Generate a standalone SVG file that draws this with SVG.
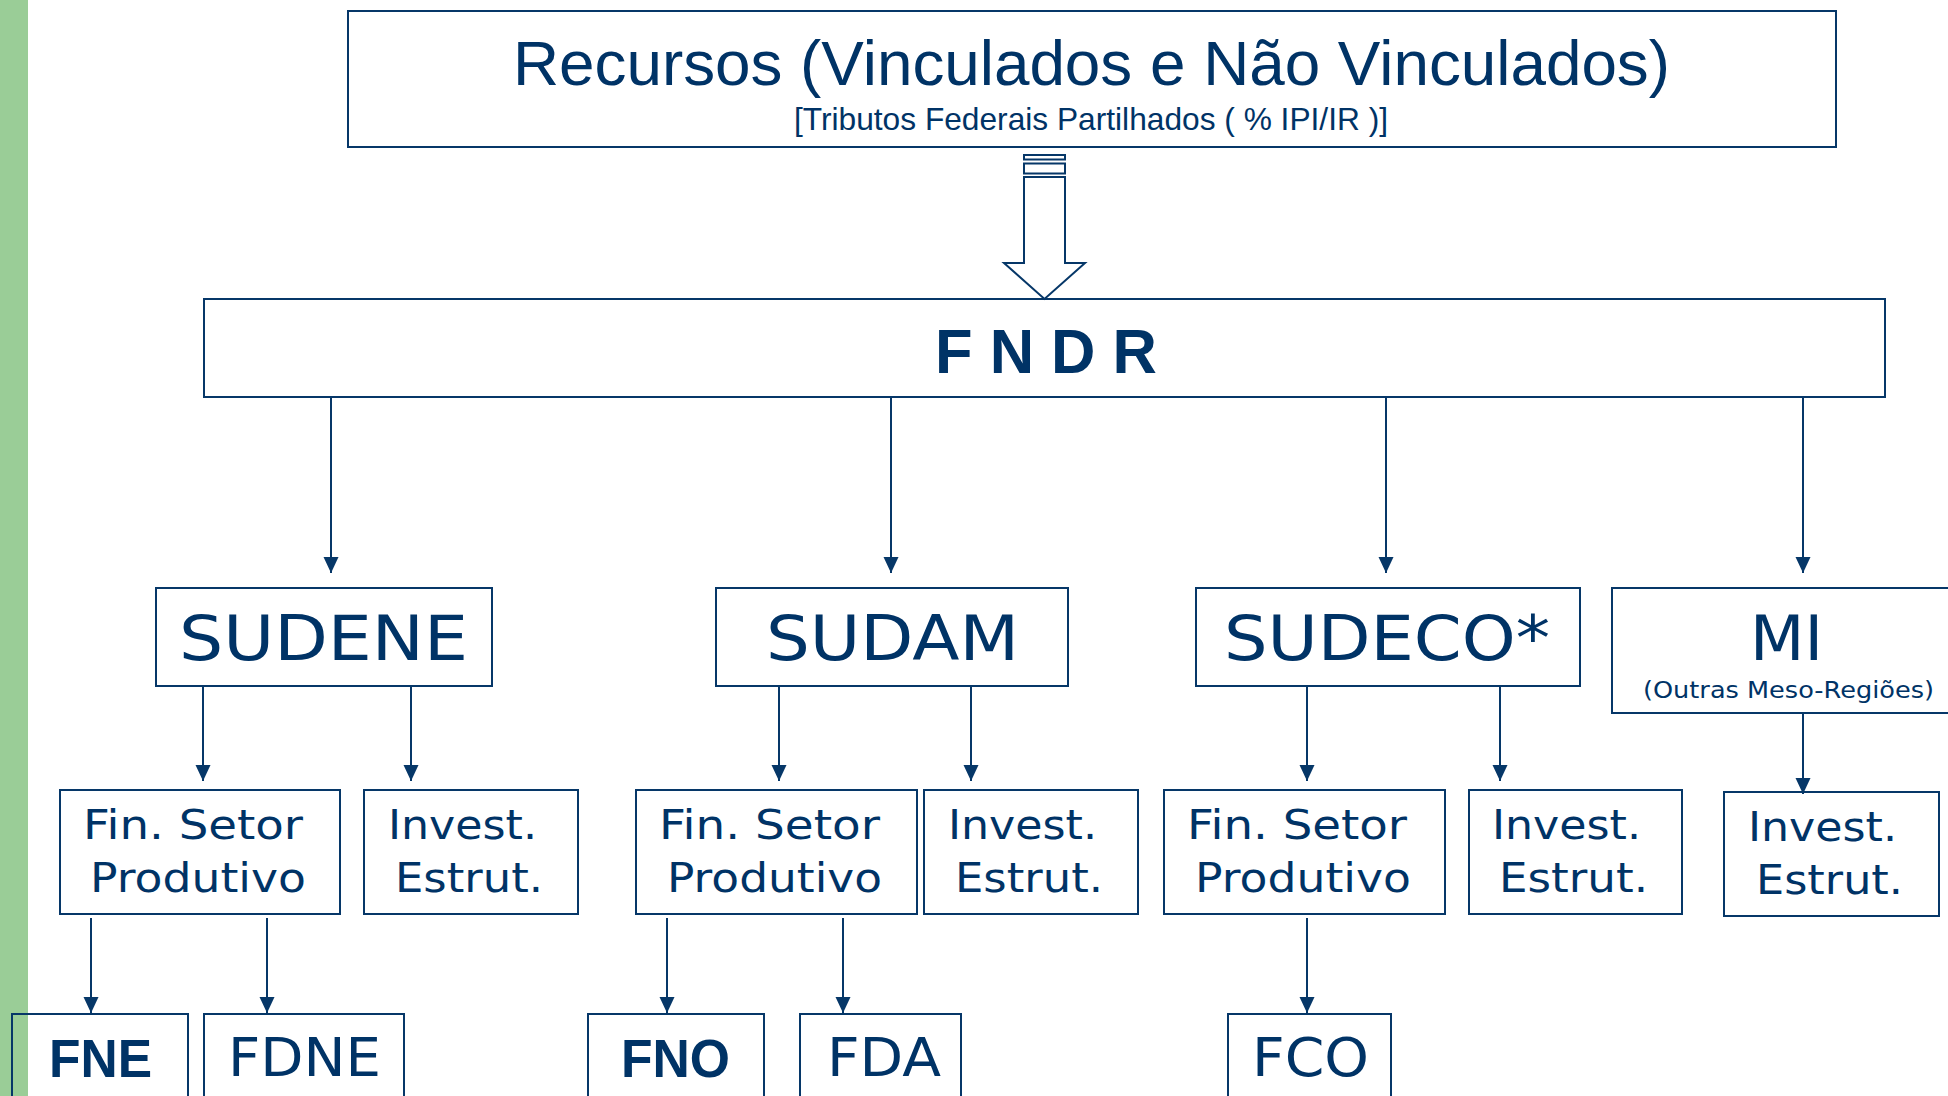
<svg xmlns="http://www.w3.org/2000/svg" width="1948" height="1096" viewBox="0 0 1948 1096">
<style>
.box{fill:none;stroke:#063768;stroke-width:2}
.t{fill:#003366;font-family:"DejaVu Sans","Open Sans",sans-serif}
.a{fill:#003366;font-family:"Liberation Sans",Arial,sans-serif}
.l2{font-size:62px}
.l3{font-size:40px}
.l4{font-size:53px}
.b{font-family:"Liberation Sans",Arial,sans-serif;font-weight:bold;font-size:53px}
.c{fill:none;stroke:#063768;stroke-width:2;marker-end:url(#ah)}
</style>
<defs>
<marker id="ah" markerUnits="userSpaceOnUse" markerWidth="16" markerHeight="16" refX="16" refY="7.5" orient="auto">
<path d="M0,0 L16,7.5 L0,15 Z" fill="#063768"/>
</marker>
</defs>
<rect x="0" y="0" width="1948" height="1096" fill="#ffffff"/>
<rect x="0" y="0" width="28" height="1096" fill="#9ACD97"/>

<g id="recursos">
<rect class="box" x="348" y="11" width="1488" height="136"/>
<text class="a" x="513" y="85" font-size="63" textLength="1157" lengthAdjust="spacingAndGlyphs">Recursos (Vinculados e Não Vinculados)</text>
<text class="a" x="794" y="130" font-size="32" textLength="594" lengthAdjust="spacingAndGlyphs">[Tributos Federais Partilhados ( % IPI/IR )]</text>
</g>

<g id="fndr">
<rect class="box" x="204" y="299" width="1681" height="98"/>
<text class="a" x="935" y="373" font-size="63" font-weight="bold" textLength="222" lengthAdjust="spacingAndGlyphs">F N D R</text>
</g>

<g id="sudene">
<rect class="box" x="156" y="588" width="336" height="98"/>
<text class="t l2" x="179" y="660" textLength="289" lengthAdjust="spacingAndGlyphs">SUDENE</text>
</g>
<g id="sudam">
<rect class="box" x="716" y="588" width="352" height="98"/>
<text class="t l2" x="766" y="660" textLength="253" lengthAdjust="spacingAndGlyphs">SUDAM</text>
</g>
<g id="sudeco">
<rect class="box" x="1196" y="588" width="384" height="98"/>
<text class="t l2" x="1224" y="660" textLength="326" lengthAdjust="spacingAndGlyphs">SUDECO*</text>
</g>
<g id="mi">
<rect class="box" x="1612" y="588" width="340" height="125"/>
<text class="t l2" x="1750" y="660" textLength="73" lengthAdjust="spacingAndGlyphs">MI</text>
<text class="t" x="1643" y="698" font-size="23" textLength="291" lengthAdjust="spacingAndGlyphs">(Outras Meso-Regiões)</text>
</g>

<g id="sudene-fin">
<rect class="box" x="60" y="790" width="280" height="124"/>
<text class="t l3" x="83" y="839" textLength="220" lengthAdjust="spacingAndGlyphs">Fin. Setor</text>
<text class="t l3" x="90" y="892" textLength="216" lengthAdjust="spacingAndGlyphs">Produtivo</text>
</g>
<g id="sudene-inv">
<rect class="box" x="364" y="790" width="214" height="124"/>
<text class="t l3" x="388" y="839" textLength="149" lengthAdjust="spacingAndGlyphs">Invest.</text>
<text class="t l3" x="395" y="892" textLength="148" lengthAdjust="spacingAndGlyphs">Estrut.</text>
</g>
<g id="sudam-fin">
<rect class="box" x="636" y="790" width="281" height="124"/>
<text class="t l3" x="659" y="839" textLength="221" lengthAdjust="spacingAndGlyphs">Fin. Setor</text>
<text class="t l3" x="667" y="892" textLength="215" lengthAdjust="spacingAndGlyphs">Produtivo</text>
</g>
<g id="sudam-inv">
<rect class="box" x="924" y="790" width="214" height="124"/>
<text class="t l3" x="948" y="839" textLength="149" lengthAdjust="spacingAndGlyphs">Invest.</text>
<text class="t l3" x="955" y="892" textLength="148" lengthAdjust="spacingAndGlyphs">Estrut.</text>
</g>
<g id="sudeco-fin">
<rect class="box" x="1164" y="790" width="281" height="124"/>
<text class="t l3" x="1187" y="839" textLength="220" lengthAdjust="spacingAndGlyphs">Fin. Setor</text>
<text class="t l3" x="1195" y="892" textLength="216" lengthAdjust="spacingAndGlyphs">Produtivo</text>
</g>
<g id="sudeco-inv">
<rect class="box" x="1469" y="790" width="213" height="124"/>
<text class="t l3" x="1492" y="839" textLength="149" lengthAdjust="spacingAndGlyphs">Invest.</text>
<text class="t l3" x="1499" y="892" textLength="149" lengthAdjust="spacingAndGlyphs">Estrut.</text>
</g>
<g id="mi-inv">
<rect class="box" x="1724" y="792" width="215" height="124"/>
<text class="t l3" x="1748" y="841" textLength="149" lengthAdjust="spacingAndGlyphs">Invest.</text>
<text class="t l3" x="1756" y="894" textLength="147" lengthAdjust="spacingAndGlyphs">Estrut.</text>
</g>

<g id="fne">
<rect class="box" x="12" y="1014" width="176" height="100"/>
<text class="a b" x="49" y="1077" textLength="103" lengthAdjust="spacingAndGlyphs">FNE</text>
</g>
<g id="fdne">
<rect class="box" x="204" y="1014" width="200" height="100"/>
<text class="t l4" x="228" y="1076" textLength="153" lengthAdjust="spacingAndGlyphs">FDNE</text>
</g>
<g id="fno">
<rect class="box" x="588" y="1014" width="176" height="100"/>
<text class="a b" x="621" y="1077" textLength="109" lengthAdjust="spacingAndGlyphs">FNO</text>
</g>
<g id="fda">
<rect class="box" x="800" y="1014" width="161" height="100"/>
<text class="t l4" x="827" y="1076" textLength="114" lengthAdjust="spacingAndGlyphs">FDA</text>
</g>
<g id="fco">
<rect class="box" x="1228" y="1014" width="163" height="100"/>
<text class="t l4" x="1252" y="1076" textLength="117" lengthAdjust="spacingAndGlyphs">FCO</text>
</g>

<g id="connectors">
<g id="block-arrow" fill="#ffffff" stroke="#063768" stroke-width="2">
<rect x="1024" y="155" width="41" height="4.5"/>
<rect x="1024" y="163.5" width="41" height="10"/>
<polygon points="1024,177 1065,177 1065,263 1085,263 1044.5,299 1004,263 1024,263"/>
</g>
<line class="c" x1="331" y1="398" x2="331" y2="573"/>
<line class="c" x1="891" y1="398" x2="891" y2="573"/>
<line class="c" x1="1386" y1="398" x2="1386" y2="573"/>
<line class="c" x1="1803" y1="398" x2="1803" y2="573"/>
<line class="c" x1="203" y1="686" x2="203" y2="781"/>
<line class="c" x1="411" y1="686" x2="411" y2="781"/>
<line class="c" x1="779" y1="686" x2="779" y2="781"/>
<line class="c" x1="971" y1="686" x2="971" y2="781"/>
<line class="c" x1="1307" y1="686" x2="1307" y2="781"/>
<line class="c" x1="1500" y1="686" x2="1500" y2="781"/>
<line class="c" x1="1803" y1="713" x2="1803" y2="794"/>
<line class="c" x1="91" y1="918" x2="91" y2="1013"/>
<line class="c" x1="267" y1="918" x2="267" y2="1013"/>
<line class="c" x1="667" y1="918" x2="667" y2="1013"/>
<line class="c" x1="843" y1="918" x2="843" y2="1013"/>
<line class="c" x1="1307" y1="918" x2="1307" y2="1013"/>
</g>
</svg>
